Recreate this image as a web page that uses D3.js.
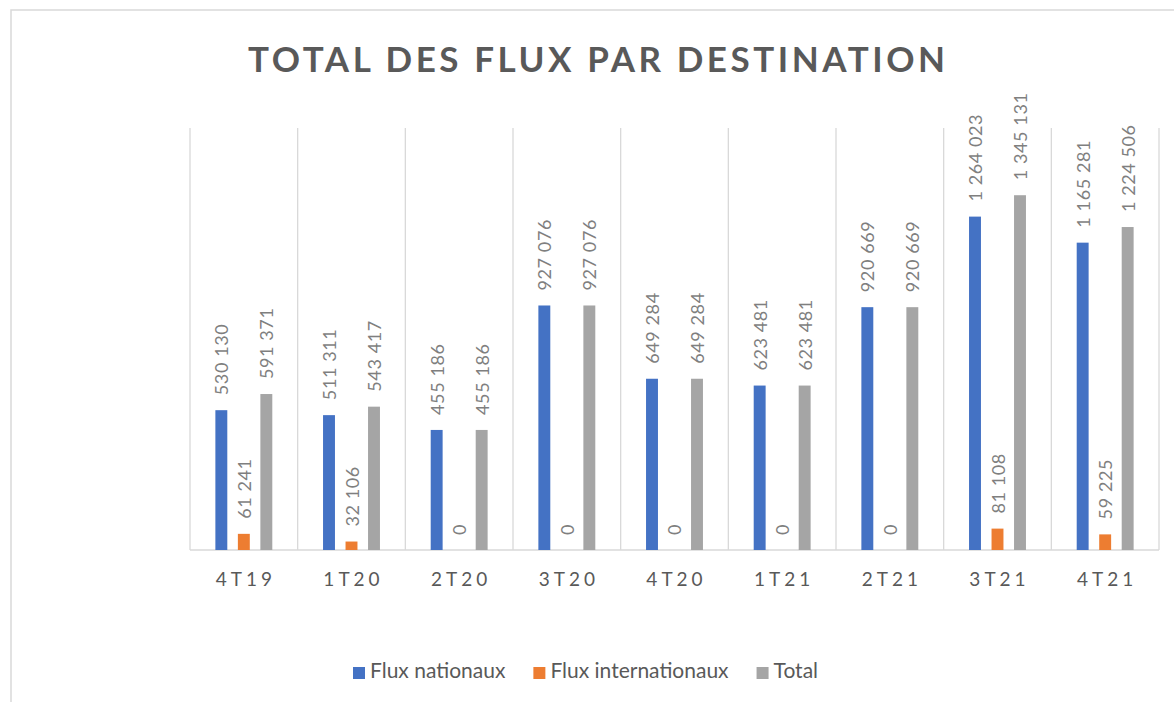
<!DOCTYPE html>
<html>
<head>
<meta charset="utf-8">
<script src="https://cdn.jsdelivr.net/npm/d3@7"></script>
<style>
  body { margin: 0; background: #fff; }
  svg { font-family: Lato, "Open Sans", sans-serif; }
</style>
</head>
<body>
<div id="chart"></div>
<script>
var categories = ["4T19", "1T20", "2T20", "3T20", "4T20", "1T21", "2T21", "3T21", "4T21"];
var seriesNames = ["Flux nationaux", "Flux internationaux", "Total"];
var fluxNationaux = [530130, 511311, 455186, 927076, 649284, 623481, 920669, 1264023, 1165281];
var fluxInternationaux = [61241, 32106, 0, 0, 0, 0, 0, 81108, 59225];
var fluxTotal = [591371, 543417, 455186, 927076, 649284, 623481, 920669, 1345131, 1224506];
var colors = ["#4472c4", "#ed7d31", "#a5a5a5"];

var canvas_width = 1174,
    canvas_height = 702;

var svg = d3.select("#chart")
    .append("svg")
    .attr("width", canvas_width)
    .attr("height", canvas_height);

// chart frame
svg.append("rect")
    .attr("x", 11).attr("y", 10)
    .attr("width", 1200).attr("height", 800)
    .attr("fill", "#fff")
    .attr("stroke", "#d9d9d9")
    .attr("stroke-width", 1.5);

var margin = { top: 128, left: 190, right: 15, bottom: 152 };
var width = canvas_width - margin.left - margin.right;
var height = canvas_height - margin.top - margin.bottom;

var rows = categories.map(function (c, i) {
    return { cat: c, values: [fluxNationaux[i], fluxInternationaux[i], fluxTotal[i]] };
});

var x0 = d3.scaleBand().domain(categories).range([0, width]);
var cw = x0.bandwidth();
var x1 = d3.scaleBand()
    .domain(d3.range(3))
    .range([cw / 2 - 33.75, cw / 2 + 33.75])
    .paddingInner(0.47)
    .paddingOuter(0.235);

var y = d3.scaleLinear().domain([0, 1600000]).range([height, 0]);

var g = svg.append("g")
    .attr("transform", "translate(" + margin.left + "," + margin.top + ")");

// vertical separators
g.selectAll(".sep")
    .data(d3.range(categories.length + 1))
    .enter()
    .append("line")
    .attr("x1", function (d) { return d * cw; })
    .attr("x2", function (d) { return d * cw; })
    .attr("y1", 0)
    .attr("y2", height)
    .attr("stroke", "#d9d9d9")
    .attr("stroke-width", 1.3);

// baseline
g.append("line")
    .attr("x1", 0).attr("x2", width)
    .attr("y1", height).attr("y2", height)
    .attr("stroke", "#d9d9d9")
    .attr("stroke-width", 1.5);

var fmt = d3.formatLocale({ decimal: ",", thousands: "\u00a0", grouping: [3], currency: ["", " €"] }).format(",d");

var groups = g.selectAll(".grp")
    .data(rows)
    .enter()
    .append("g")
    .attr("transform", function (d) { return "translate(" + x0(d.cat) + ",0)"; });

groups.selectAll("rect")
    .data(function (d) { return d.values; })
    .enter()
    .append("rect")
    .attr("x", function (d, i) { return x1(i); })
    .attr("width", x1.bandwidth())
    .attr("y", function (d) { return y(d); })
    .attr("height", function (d) { return height - y(d); })
    .attr("fill", function (d, i) { return colors[i]; });

groups.selectAll(".lbl")
    .data(function (d) { return d.values; })
    .enter()
    .append("text")
    .attr("class", "lbl")
    .attr("transform", function (d, i) {
        return "translate(" + (x1(i) + x1.bandwidth() / 2 + 7) + "," + (y(d) - 15) + ") rotate(-90)";
    })
    .attr("fill", "#7f7f7f")
    .style("font-size", "18px")
    .style("letter-spacing", "0.6px")
    .text(function (d) { return fmt(d); });

// x axis labels
g.selectAll(".cat")
    .data(categories)
    .enter()
    .append("text")
    .attr("x", function (d) { return x0(d) + cw / 2 + 2; })
    .attr("y", height + 36)
    .attr("text-anchor", "middle")
    .attr("fill", "#595959")
    .style("font-size", "19px")
    .style("letter-spacing", "4px")
    .text(function (d) { return d; });

// title
svg.append("text")
    .attr("x", 248)
    .attr("y", 72)
    .attr("fill", "#595959")
    .attr("textLength", 697)
    .attr("lengthAdjust", "spacing")
    .style("font-size", "35px")
    .style("font-weight", "bold")
    .text("TOTAL  DES FLUX PAR DESTINATION");

// legend
var legend = svg.append("g").attr("transform", "translate(0,678)");
var lx = 353;
seriesNames.forEach(function (name, i) {
    legend.append("rect")
        .attr("x", lx).attr("y", -11)
        .attr("width", 12).attr("height", 12)
        .attr("fill", colors[i]);
    var t = legend.append("text")
        .attr("x", lx + 17)
        .attr("y", 0)
        .attr("fill", "#595959")
        .style("font-size", "21px")
        .text(name);
    lx += 17 + t.node().getComputedTextLength() + 28;
});
</script>
</body>
</html>
